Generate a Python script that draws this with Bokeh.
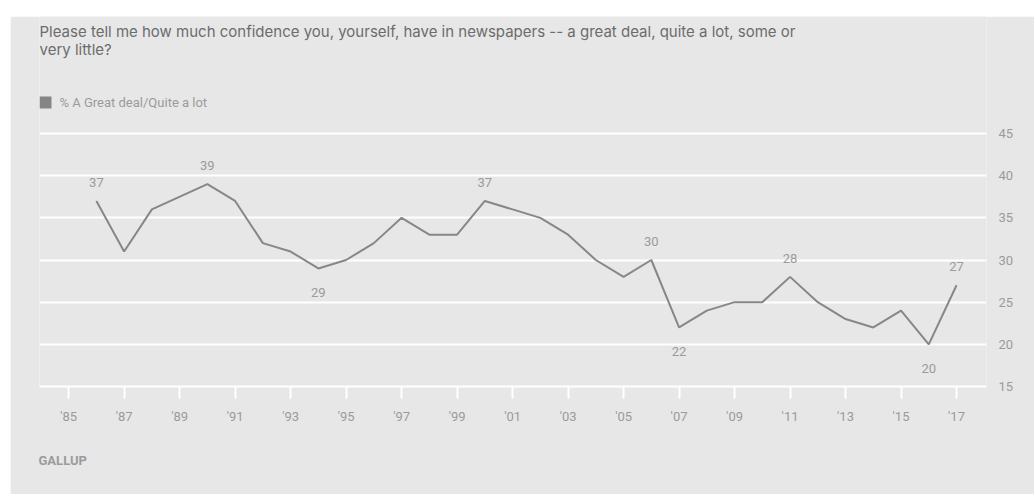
from bokeh.plotting import figure
from bokeh.models import (ColumnDataSource, FixedTicker, Label, BoxAnnotation, Range1d, Title)
from bokeh.core.properties import value
from bokeh.embed import file_html
from bokeh.resources import INLINE

# ---- data ----
years = [1986, 1987, 1988, 1990, 1991, 1992, 1993, 1994, 1995, 1996, 1997, 1998, 1999,
         2000, 2001, 2002, 2003, 2004, 2005, 2006, 2007, 2008, 2009, 2010, 2011, 2012,
         2013, 2014, 2015, 2016, 2017]
pct_great_deal = [37, 31, 36, 39, 37, 32, 31, 29, 30, 32, 35, 33, 33,
                  37, 36, 35, 33, 30, 28, 30, 22, 24, 25, 25, 28, 25,
                  23, 22, 24, 20, 27]
labeled_above = [1986, 1990, 2000, 2006, 2011, 2017]
labeled_below = [1994, 2007, 2016]
x_ticks = list(range(1985, 2018, 2))
x_tick_labels = ["'85", "'87", "'89", "'91", "'93", "'95", "'97", "'99", "'01", "'03",
                 "'05", "'07", "'09", "'11", "'13", "'15", "'17"]
y_ticks = [15, 20, 25, 30, 35, 40, 45]
title_lines = ["Please tell me how much confidence you, yourself, have in newspapers -- a great deal, quite a lot, some or",
               "very little?"]
series_name = "% A Great deal/Quite a lot"
source_name = "GALLUP"

BG = "#e7e7e7"
LINE = "#878787"
TXT = "#9b9b9b"
FONT = "Roboto"
TITLE_FONT = "Inter"

W, H = 1024, 478
FL = 29                 # frame left inside canvas
FB = 370                # frame bottom inside canvas (from top)
GRID_TOP = 117          # canvas y of the top gridline
y_lo, y_hi = y_ticks[0], y_ticks[-1]
# frame spans to the canvas top so header texts live inside it
y_top = y_hi + (y_hi - y_lo) * GRID_TOP / (FB - GRID_TOP)

def sx(cx):  # canvas x -> frame-relative screen x
    return cx - FL

def sy(cy):  # canvas y (from top) -> frame-relative screen y (up)
    return FB - cy

p = figure(width=W, height=H, output_backend="svg", toolbar_location=None,
           x_range=Range1d(1983.95, 2018.08), y_range=Range1d(y_lo, y_top),
           y_axis_location="right",
           min_border_left=FL, min_border_right=48, min_border_top=0, min_border_bottom=H - FB,
           background_fill_color=BG, border_fill_color=BG, outline_line_color=None,
           margin=(16, 0, 0, 10))

# grid
p.xgrid.visible = False
p.ygrid.ticker = FixedTicker(ticks=y_ticks)
p.ygrid.grid_line_color = "white"
p.ygrid.grid_line_width = 2

# x axis
xa = p.xaxis[0]
xa.ticker = FixedTicker(ticks=x_ticks)
xa.major_label_overrides = {t: l for t, l in zip(x_ticks, x_tick_labels)}
xa.axis_line_color = "white"
xa.axis_line_width = 2
xa.major_tick_line_color = "white"
xa.major_tick_line_width = 2
xa.major_tick_out = 12
xa.major_tick_in = 0
xa.minor_tick_line_color = None
xa.major_label_text_color = TXT
xa.major_label_text_font = FONT
xa.major_label_text_font_size = "13px"
xa.major_label_standoff = 10

ya = p.yaxis[0]
ya.ticker = FixedTicker(ticks=y_ticks)
ya.axis_line_color = None
ya.major_tick_line_color = None
ya.minor_tick_line_color = None
ya.major_label_text_color = TXT
ya.major_label_text_font = FONT
ya.major_label_text_font_size = "13px"
ya.major_label_standoff = 6

# line
src = ColumnDataSource(dict(x=years, y=pct_great_deal))
p.line("x", "y", source=src, line_color=LINE, line_width=2)

# point labels
lookup = dict(zip(years, pct_great_deal))
above = ColumnDataSource(dict(x=labeled_above, y=[lookup[y] for y in labeled_above],
                              t=[str(lookup[y]) for y in labeled_above]))
below = ColumnDataSource(dict(x=labeled_below, y=[lookup[y] for y in labeled_below],
                              t=[str(lookup[y]) for y in labeled_below]))
p.text("x", "y", text="t", source=above, text_align="center", text_baseline="bottom",
       y_offset=-14, text_color=TXT, text_font=value(FONT), text_font_size="13px")
p.text("x", "y", text="t", source=below, text_align="center", text_baseline="top",
       y_offset=20, text_color=TXT, text_font=value(FONT), text_font_size="13px")

# title lines, legend (inside the extended frame)
for i, line in enumerate(title_lines):
    p.add_layout(Label(x=sx(29), y=sy(15 + 18 * i), x_units="screen", y_units="screen", text=line,
                       text_color="#6c6c6c", text_font=TITLE_FONT, text_font_size="15px",
                       text_baseline="middle"))
p.add_layout(BoxAnnotation(left=sx(29), right=sx(41), top=sy(80), bottom=sy(92),
                           left_units="screen", right_units="screen",
                           bottom_units="screen", top_units="screen",
                           fill_color="#858585", fill_alpha=1, line_color=None, level="overlay"))
p.add_layout(Label(x=sx(49), y=sy(86), x_units="screen", y_units="screen", text=series_name,
                   text_color=TXT, text_font=FONT, text_font_size="13px", text_baseline="middle"))

# source line below the axis
p.add_layout(Title(text=source_name, align="left", offset=-1, standoff=49,
                   text_color=TXT, text_font=FONT, text_font_size="13px",
                   text_font_style="bold"), "below")

open("out.html", "w").write(file_html(p, INLINE))
